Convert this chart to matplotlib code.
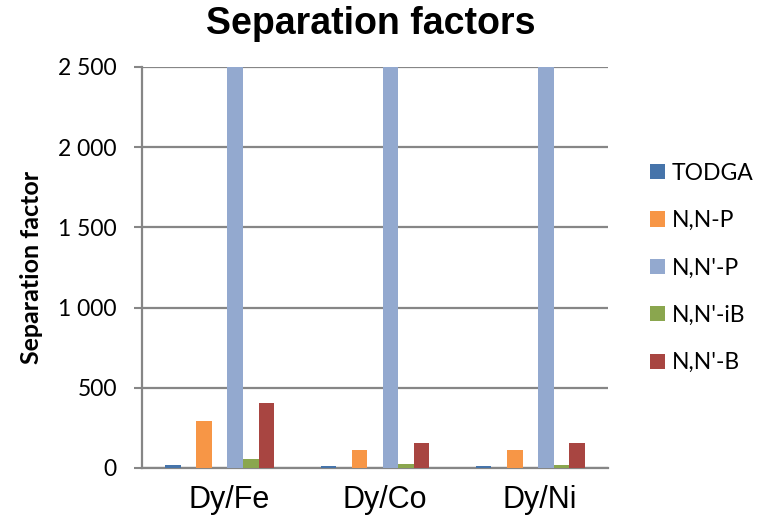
#!/usr/bin/env python3
# -*- coding: utf-8 -*-

# Facteurs de separation Dy / metaux de transition, par extractant

import numpy as np
import matplotlib
matplotlib.use("Agg")
import matplotlib.pyplot as plt
from matplotlib.ticker import FuncFormatter
from matplotlib.patches import Patch

# Donnees
categories = ["Dy/Fe", "Dy/Co", "Dy/Ni"]
series = ["TODGA", "N,N-P", "N,N'-P", "N,N'-iB", "N,N'-B"]
todga = [20, 10, 10]
nn_p = [293, 112, 110]
nnp_p = [2500, 2500, 2500]
nnp_ib = [56, 23, 20]
nnp_b = [403, 156, 154]
valeurs = [todga, nn_p, nnp_p, nnp_ib, nnp_b]

couleurs = ["#4674AA", "#F79646", "#93A9CF", "#8AA64E", "#A84541"]
# position des barres dans le groupe (en largeurs de barre)
creneaux = [0, 2, 4, 5, 6]
largeur = 0.1

police = "Lato"

fig = plt.figure(figsize=(7.59, 5.30), dpi=100)
ax = fig.add_axes([142/759, 62/530, 466/759, 401/530])

x = np.arange(len(categories))
for vals, coul, k in zip(valeurs, couleurs, creneaux):
   ax.bar(x + (k - 3)*largeur, vals, width=largeur, color=coul,
          align="center", zorder=3)

ax.set_xlim(-0.5, 2.5)
ax.set_ylim(0, 2500)
ax.set_yticks(np.arange(0, 2501, 500))
ax.yaxis.set_major_formatter(
   FuncFormatter(lambda v, p: "{:,}".format(int(v)).replace(",", " ")))
ax.set_xticks(x + 0.06)
ax.set_xticklabels(categories, fontsize=22, family="Liberation Sans")
ax.tick_params(axis="x", length=0, pad=12)
ax.tick_params(axis="y", length=6, width=1.5, color="#868686", pad=12,
               labelsize=16.5)
for lab in ax.get_yticklabels():
   lab.set_family(police)

ax.grid(axis="y", color="#868686", linewidth=1.6, zorder=0)
for cote in ["top", "right"]:
   ax.spines[cote].set_visible(False)
for cote in ["left", "bottom"]:
   ax.spines[cote].set_color("#868686")
   ax.spines[cote].set_linewidth(1.6)

ax.set_ylabel("Separation factor", fontsize=18, fontweight="bold",
              family=police)
ax.yaxis.set_label_coords(-0.213, 0.5)

fig.text(371/759, 1 - 24/530, "Separation factors", ha="center", va="center",
         fontsize=27, fontweight="bold", family="Liberation Sans")

# Legende
poignees = [Patch(facecolor=c, edgecolor="none") for c in couleurs]
fig.legend(poignees, series, loc="center left",
           bbox_to_anchor=(650/759, 1 - 268/530),
           bbox_transform=fig.transFigure, frameon=False,
           prop={"family": police, "size": 16.5},
           handlelength=0.65, handleheight=0.65, handletextpad=0.3,
           labelspacing=1.15, borderpad=0, borderaxespad=0)

plt.savefig("out.png", dpi=100)
